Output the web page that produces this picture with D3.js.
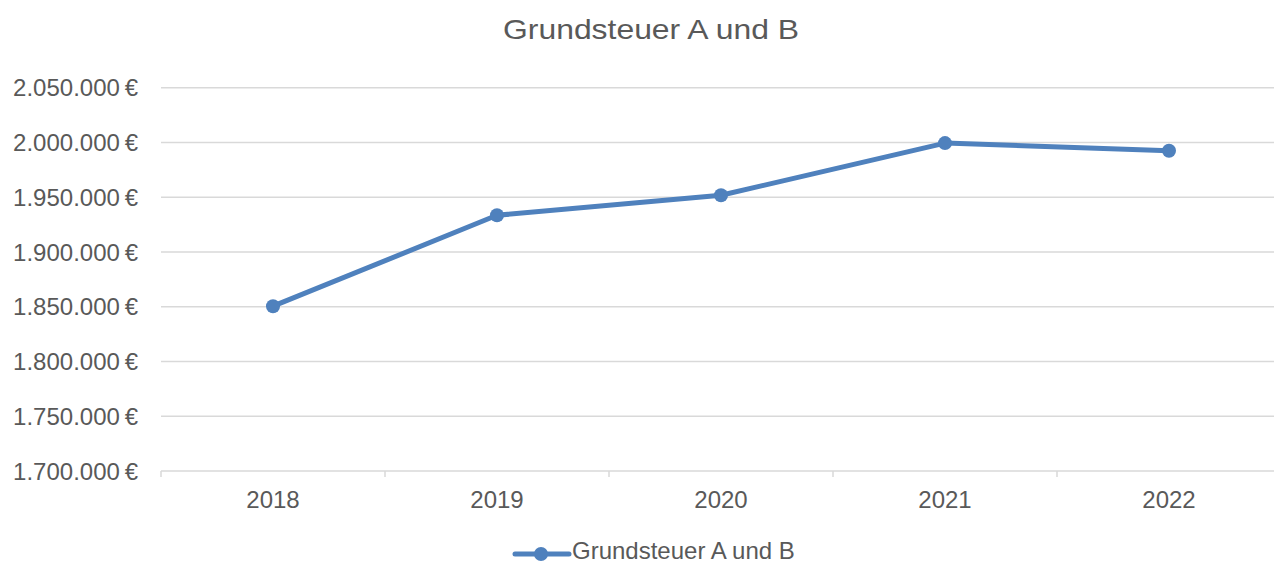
<!DOCTYPE html>
<html><head><meta charset="utf-8">
<script src="https://cdn.jsdelivr.net/npm/d3@7"></script>
<style>body{margin:0;background:#fff}svg{display:block}text{font-family:"Liberation Sans",Arial,sans-serif}</style>
</head><body><svg id="c" width="1274" height="565"></svg>
<script>
const years = ["2018","2019","2020","2021","2022"];
const values = [1850500, 1933500, 1951800, 1999400, 1992400];
const yTicks = [1700000,1750000,1800000,1850000,1900000,1950000,2000000,2050000];
const seriesName = "Grundsteuer A und B";
const title = "Grundsteuer A und B";

(function(){
const svg = d3.select("#c");
const pL = 161, pR = 1281, pT = 87.7, pB = 471;
const x = d3.scaleBand().domain(years).range([pL, pR]);
const y = d3.scaleLinear().domain([1700000, 2050000]).range([pB, pT]);
const fmt = d3.formatLocale({decimal:",", thousands:".", grouping:[3], currency:["","\u00a0€"]}).format(",.0f");

svg.append("text").attr("x", 651).attr("y", 39).attr("text-anchor","middle")
  .attr("font-size", 28).attr("fill","#595959")
  .attr("textLength", 296).attr("lengthAdjust","spacingAndGlyphs").text(title);

svg.append("g").selectAll("line").data(yTicks.slice(1)).join("line")
  .attr("x1", pL).attr("x2", pR).attr("y1", d=>y(d)).attr("y2", d=>y(d))
  .attr("stroke","#d9d9d9").attr("stroke-width",1.5);

svg.append("g").selectAll("text").data(yTicks).join("text")
  .attr("x", 138).attr("y", d=>y(d)+8.7).attr("text-anchor","end")
  .attr("font-size", 24).attr("fill","#595959").text(d=>fmt(d)+"\u2009€");

const xa = svg.append("g");
xa.append("line").attr("x1",pL).attr("x2",pR).attr("y1",pB).attr("y2",pB)
  .attr("stroke","#d9d9d9").attr("stroke-width",1.5);
const bounds = years.map(d=>x(d)).concat([pR]);
xa.selectAll("line.t").data(bounds).join("line").attr("class","t")
  .attr("x1",d=>d).attr("x2",d=>d).attr("y1",pB).attr("y2",pB+6)
  .attr("stroke","#d9d9d9").attr("stroke-width",1.5);
xa.selectAll("text").data(years).join("text")
  .attr("x", d=>x(d)+x.bandwidth()/2).attr("y", 508).attr("text-anchor","middle")
  .attr("font-size",24).attr("fill","#595959").text(d=>d);

const color = "#4F81BD";
const line = d3.line().x((d,i)=>x(years[i])+x.bandwidth()/2).y(d=>y(d));
svg.append("path").datum(values).attr("d", line).attr("fill","none")
  .attr("stroke",color).attr("stroke-width",5).attr("stroke-linejoin","round").attr("stroke-linecap","round");
svg.append("g").selectAll("circle").data(values).join("circle")
  .attr("cx",(d,i)=>x(years[i])+x.bandwidth()/2).attr("cy",d=>y(d)).attr("r",7).attr("fill",color);

const lg = svg.append("g");
lg.append("line").attr("x1",515).attr("x2",569).attr("y1",554).attr("y2",554)
  .attr("stroke",color).attr("stroke-width",5).attr("stroke-linecap","round");
lg.append("circle").attr("cx",541).attr("cy",554).attr("r",7).attr("fill",color);
lg.append("text").attr("x",572).attr("y",559).attr("font-size",24).attr("fill","#595959").text(seriesName);
})();
</script></body></html>
